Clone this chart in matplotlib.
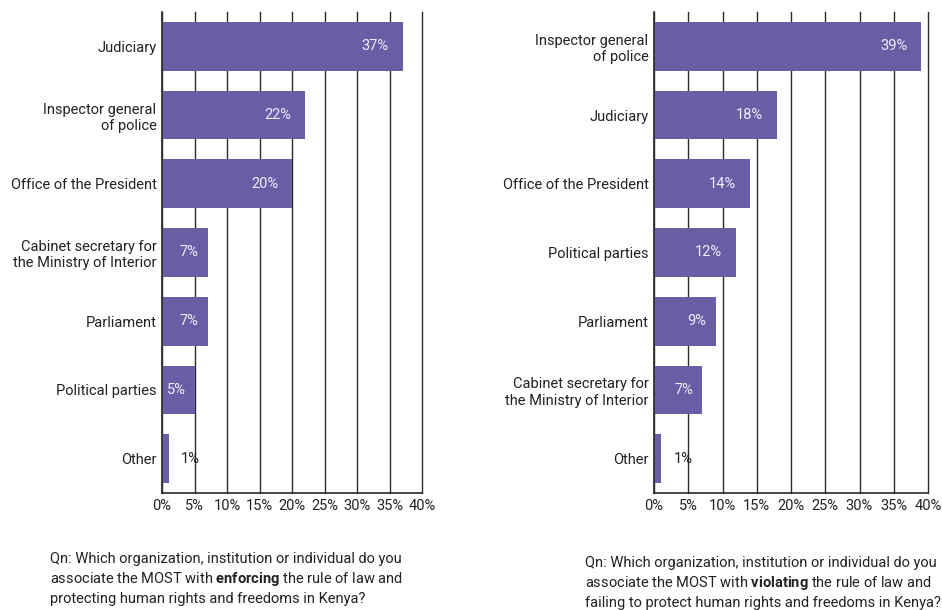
import matplotlib
matplotlib.use('Agg')
import matplotlib.pyplot as plt

plt.rcParams['font.family'] = ['Roboto', 'DejaVu Sans']
plt.rcParams['mathtext.fontset'] = 'custom'
plt.rcParams['mathtext.rm'] = 'Roboto'
plt.rcParams['mathtext.bf'] = 'Roboto:bold'

# enforcing the rule of law
enf_labels = ['Judiciary', 'Inspector general\nof police', 'Office of the President',
              'Cabinet secretary for\nthe Ministry of Interior', 'Parliament',
              'Political parties', 'Other']
enf_values = [37, 22, 20, 7, 7, 5, 1]

# violating the rule of law
vio_labels = ['Inspector general\nof police', 'Judiciary', 'Office of the President',
              'Political parties', 'Parliament',
              'Cabinet secretary for\nthe Ministry of Interior', 'Other']
vio_values = [39, 18, 14, 12, 9, 7, 1]

ticks = [0, 5, 10, 15, 20, 25, 30, 35, 40]

enf_note = ('Qn: Which organization, institution or individual do you\n'
            'associate the MOST with $\\bf{enforcing}$ the rule of law and\n'
            'protecting human rights and freedoms in Kenya?')
vio_note = ('Qn: Which organization, institution or individual do you\n'
            'associate the MOST with $\\bf{violating}$ the rule of law and\n'
            'failing to protect human rights and freedoms in Kenya?')

bar_color = '#675ea6'
text_color = '#222222'
fs = 10.5


def draw(ax, labels, values):
    pos = list(range(len(labels)))
    ax.barh(pos, values, height=0.71, color=bar_color, zorder=3)
    ax.set_xlim(0, 40)
    ax.set_ylim(len(labels) - 0.5, -0.5)
    ax.set_xticks(ticks)
    ax.set_xticklabels(['{}%'.format(t) for t in ticks], fontsize=fs, color=text_color)
    ax.set_yticks(pos)
    ax.set_yticklabels(labels, fontsize=fs, color=text_color, multialignment='right')
    ax.tick_params(length=0, pad=4)
    ax.grid(axis='x', color='#2a2a2a', linewidth=1.0, zorder=0)
    for line in ax.get_xgridlines():
        line.set_clip_on(False)
    for s in ['top', 'right']:
        ax.spines[s].set_visible(False)
    for s in ['left', 'bottom']:
        ax.spines[s].set_color('#2a2a2a')
        ax.spines[s].set_linewidth(1.2)
        ax.spines[s].set_zorder(4)
    for p, v in zip(pos, values):
        if v >= 3:
            pad = 10 if v >= 10 else 6.5
            ax.annotate('{}%'.format(v), (v, p), xytext=(-pad, 0), textcoords='offset points',
                        ha='right', va='center', fontsize=fs, color='#f0eef8', zorder=5)
        else:
            ax.annotate('{}%'.format(v), (v, p), xytext=(9, 0), textcoords='offset points',
                        ha='left', va='center', fontsize=fs, color=text_color, zorder=5)


fig = plt.figure(figsize=(9.42, 6.10), dpi=100)
ax1 = fig.add_axes([162 / 942, 1 - 493 / 610, 260 / 942, 481 / 610])
ax2 = fig.add_axes([654 / 942, 1 - 493 / 610, 274 / 942, 481 / 610])
draw(ax1, enf_labels, enf_values)
draw(ax2, vio_labels, vio_values)

fig.text(50 / 942, 1 - 552 / 610, enf_note, ha='left', va='top', fontsize=fs,
         color=text_color, linespacing=1.32)
fig.text(585 / 942, 1 - 556 / 610, vio_note, ha='left', va='top', fontsize=fs,
         color=text_color, linespacing=1.32)

fig.savefig('out.png', dpi=100)
